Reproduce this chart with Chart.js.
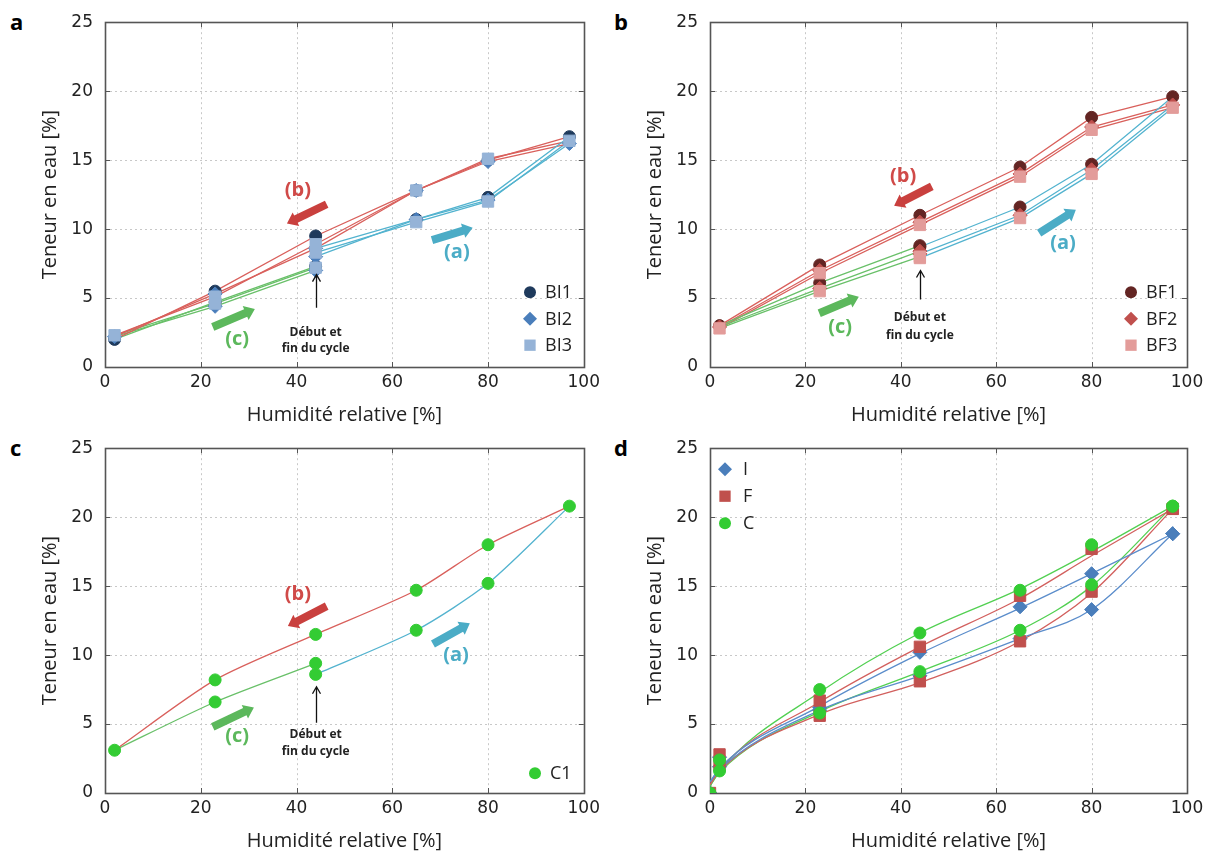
<!DOCTYPE html>
<html>
<head>
<meta charset="utf-8">
<script src="https://cdn.jsdelivr.net/npm/chart.js@4.4.0/dist/chart.umd.min.js"></script>
<style>
  body { margin: 0; background: #fff; width: 1215px; height: 852px; position: relative; overflow: hidden; }
  canvas { position: absolute; }
  .letter { position: absolute; font: bold 22px 'Open Sans', sans-serif; color: #000; line-height: 22px; }
</style>
</head>
<body>
<div class="letter" style="left:10px;top:10px">a</div>
<div class="letter" style="left:614px;top:10px">b</div>
<div class="letter" style="left:10px;top:436px">c</div>
<div class="letter" style="left:614px;top:436px">d</div>
<canvas id="chartA" width="605" height="426" style="left:0;top:0"></canvas>
<canvas id="chartB" width="610" height="426" style="left:605px;top:0"></canvas>
<canvas id="chartC" width="605" height="426" style="left:0;top:426px"></canvas>
<canvas id="chartD" width="610" height="426" style="left:605px;top:426px"></canvas>
<script>
// humidité relative [%] dans l'ordre du cycle : (a) 44->97, (b) 97->2, (c) 2->44
const cycleRH = [44, 65, 80, 97, 80, 65, 44, 23, 2, 23, 44];

// teneur en eau [%] le long du cycle
const BI1 = [8.6, 10.7, 12.3, 16.7, 15.0, 12.8, 9.5, 5.5, 2.0, 4.7, 7.3];
const BI2 = [8.0, 10.7, 12.1, 16.2, 14.9, 12.8, 8.6, 5.3, 2.2, 4.4, 7.0];
const BI3 = [8.3, 10.5, 12.0, 16.4, 15.1, 12.8, 8.9, 5.1, 2.3, 4.6, 7.2];

const BF1 = [8.7, 11.6, 14.7, 19.6, 18.1, 14.5, 11.0, 7.4, 3.0, 6.1, 8.8];
const BF2 = [8.2, 11.0, 14.3, 19.0, 17.4, 14.0, 10.5, 7.0, 2.9, 5.7, 8.4];
const BF3 = [7.9, 10.8, 14.0, 18.8, 17.2, 13.8, 10.3, 6.8, 2.8, 5.5, 8.0];

const C1 = [8.6, 11.8, 15.2, 20.8, 18.0, 14.7, 11.5, 8.2, 3.1, 6.6, 9.4];

// panneau d : moyennes par type
const rhD = [0, 2, 23, 44, 65, 80, 97];
const I_ads = [0.0, 1.9, 6.0, 8.5, 11.2, 13.3, 18.8];
const I_des = [null, 2.6, 6.2, 10.2, 13.5, 15.9, 18.8];
const F_ads = [0.0, 2.0, 5.6, 8.1, 11.0, 14.6, 20.6];
const F_des = [null, 2.8, 6.7, 10.6, 14.3, 17.7, 20.6];
const C_ads = [0.0, 1.6, 5.8, 8.8, 11.8, 15.1, 20.8];
const C_des = [null, 2.4, 7.5, 11.6, 14.7, 18.0, 20.8];
// courbes ajustées
const I_fitAds = [0.8, 1.7, 6.0, 8.5, 11.2, 13.3, 18.8];
const I_fitDes = [0.8, 1.8, 6.3, 10.1, 13.4, 15.9, 18.8];
const F_fitAds = [0.6, 1.6, 5.7, 8.0, 11.0, 14.5, 20.6];
const F_fitDes = [0.6, 1.7, 6.6, 10.6, 14.1, 17.2, 20.6];
const C_fitAds = [0.5, 1.5, 5.9, 8.8, 11.8, 15.0, 20.8];
const C_fitDes = [0.5, 1.6, 7.3, 11.6, 14.8, 17.5, 20.8];

const xTicks = [0, 20, 40, 60, 80, 100];
const yTicks = [0, 5, 10, 15, 20, 25];

const CYAN = '#53B3CF', RED = '#D9605C', GREEN = '#69C069';
const phases = [
  { from: 0, to: 3, color: CYAN },
  { from: 3, to: 8, color: RED },
  { from: 8, to: 10, color: GREEN }
];

function cycleDatasets(samples, tension) {
  const sets = [];
  samples.forEach((s, k) => {
    sets.push({
      label: s.name, legend: true,
      data: cycleRH.map((x, i) => ({ x: x, y: s.values[i] })),
      showLine: false, pointStyle: s.style, pointRadius: s.r,
      backgroundColor: s.color, borderColor: s.color, pointBorderWidth: 1,
      order: samples.length - k
    });
    phases.forEach(p => {
      const pts = [];
      for (let i = p.from; i <= p.to; i++) pts.push({ x: cycleRH[i], y: s.values[i] });
      pts.sort((a, b) => a.x - b.x);
      sets.push({
        data: pts, showLine: true, pointRadius: 0, borderColor: p.color,
        borderWidth: 1.3, tension: tension, order: 10
      });
    });
  });
  return sets;
}

function fitDatasets(series) {
  const sets = [];
  series.forEach((s, k) => {
    const pts = [];
    rhD.forEach((x, i) => {
      pts.push({ x: x, y: s.ads[i] });
      if (s.des[i] !== null) pts.push({ x: x, y: s.des[i] });
    });
    sets.push({
      label: s.name, legend: true, data: pts, showLine: false,
      pointStyle: s.style, pointRadius: s.r, backgroundColor: s.color,
      borderColor: s.color, pointBorderWidth: 1, order: series.length - k
    });
    [s.fitAds, s.fitDes].forEach(fit => {
      sets.push({
        data: rhD.map((x, i) => ({ x: x, y: fit[i] })), showLine: true,
        pointRadius: 0, borderColor: s.line, borderWidth: 1.3,
        cubicInterpolationMode: 'monotone', order: 10
      });
    });
  });
  return sets;
}

function drawShape(ctx, style, x, y, r, color) {
  ctx.fillStyle = color;
  ctx.beginPath();
  if (style === 'circle') ctx.arc(x, y, r, 0, Math.PI * 2);
  else if (style === 'rectRot') { ctx.moveTo(x - r, y); ctx.lineTo(x, y - r); ctx.lineTo(x + r, y); ctx.lineTo(x, y + r); ctx.closePath(); }
  else { const h = r * Math.SQRT1_2; ctx.rect(x - h, y - h, 2 * h, 2 * h); }
  ctx.fill();
}

const decor = {
  id: 'decor',
  beforeDatasetsDraw(chart) {
    const { ctx, chartArea: a, scales: { x, y } } = chart;
    ctx.save();
    ctx.strokeStyle = '#c8c8c8';
    ctx.lineWidth = 1;
    ctx.setLineDash([2, 3]);
    xTicks.slice(1, -1).forEach(v => {
      const px = Math.round(x.getPixelForValue(v)) + 0.5;
      ctx.beginPath(); ctx.moveTo(px, a.top); ctx.lineTo(px, a.bottom); ctx.stroke();
    });
    yTicks.slice(1, -1).forEach(v => {
      const py = Math.round(y.getPixelForValue(v)) + 0.5;
      ctx.beginPath(); ctx.moveTo(a.left, py); ctx.lineTo(a.right, py); ctx.stroke();
    });
    ctx.setLineDash([]);
    ctx.strokeStyle = '#555';
    ctx.lineWidth = 1;
    xTicks.slice(1, -1).forEach(v => {
      const px = Math.round(x.getPixelForValue(v)) + 0.5;
      ctx.beginPath(); ctx.moveTo(px, a.bottom); ctx.lineTo(px, a.bottom - 5);
      ctx.moveTo(px, a.top); ctx.lineTo(px, a.top + 5); ctx.stroke();
    });
    yTicks.slice(1, -1).forEach(v => {
      const py = Math.round(y.getPixelForValue(v)) + 0.5;
      ctx.beginPath(); ctx.moveTo(a.left, py); ctx.lineTo(a.left + 5, py);
      ctx.moveTo(a.right, py); ctx.lineTo(a.right - 5, py); ctx.stroke();
    });
    ctx.lineWidth = 1.6;
    ctx.strokeRect(Math.round(a.left) + 0.5, Math.round(a.top) + 0.5, Math.round(a.right - a.left), Math.round(a.bottom - a.top));
    ctx.restore();
  },
  afterDatasetsDraw(chart, args, opts) {
    const { ctx, chartArea: a, scales: { x, y } } = chart;
    ctx.save();
    (opts.arrows || []).forEach(ar => {
      const x1 = x.getPixelForValue(ar.from[0]), y1 = y.getPixelForValue(ar.from[1]);
      const x2 = x.getPixelForValue(ar.to[0]), y2 = y.getPixelForValue(ar.to[1]);
      const L = Math.hypot(x2 - x1, y2 - y1), w = 8, hw = 15, hl = 10;
      ctx.save();
      ctx.translate(x1, y1);
      ctx.rotate(Math.atan2(y2 - y1, x2 - x1));
      ctx.fillStyle = ar.color;
      ctx.beginPath();
      ctx.moveTo(0, -w / 2); ctx.lineTo(L - hl, -w / 2); ctx.lineTo(L - hl, -hw / 2);
      ctx.lineTo(L, 0); ctx.lineTo(L - hl, hw / 2); ctx.lineTo(L - hl, w / 2); ctx.lineTo(0, w / 2);
      ctx.closePath(); ctx.fill();
      ctx.restore();
    });
    if (opts.pointer) {
      const p = opts.pointer;
      const px = Math.round(x.getPixelForValue(p.x)) + 0.5;
      const yb = y.getPixelForValue(p.from), yt = y.getPixelForValue(p.to);
      ctx.strokeStyle = '#111'; ctx.lineWidth = 1.3;
      ctx.beginPath(); ctx.moveTo(px, yb); ctx.lineTo(px, yt);
      ctx.moveTo(px - 4, yt + 7); ctx.lineTo(px, yt); ctx.lineTo(px + 4, yt + 7); ctx.stroke();
    }
    ctx.textAlign = 'center';
    ctx.textBaseline = 'middle';
    (opts.texts || []).forEach(t => {
      ctx.fillStyle = t.color; ctx.font = t.font;
      ctx.fillText(t.text, x.getPixelForValue(t.x), y.getPixelForValue(t.y));
    });
    if (opts.legend) {
      const lg = opts.legend;
      ctx.textAlign = 'left';
      ctx.font = '18px "Open Sans"';
      chart.data.datasets.filter(d => d.legend).forEach((d, i) => {
        const cx = a.left + lg.x, cy = a.top + lg.y + i * lg.dy;
        drawShape(ctx, d.pointStyle, cx, cy, d.pointRadius, d.backgroundColor);
        ctx.fillStyle = '#222';
        ctx.fillText(d.label, cx + lg.gap, cy + 1);
      });
    }
    ctx.restore();
  }
};

function makeChart(id, datasets, decorOpts, padRight) {
  return new Chart(document.getElementById(id), {
    type: 'scatter',
    data: { datasets: datasets },
    options: {
      responsive: false,
      animation: false,
      events: [],
      layout: { padding: { top: 22, right: padRight, left: 0, bottom: 0 } },
      plugins: { legend: { display: false }, tooltip: { enabled: false }, decor: decorOpts },
      scales: {
        x: {
          type: 'linear', min: 0, max: 100,
          afterBuildTicks: s => { s.ticks = xTicks.map(v => ({ value: v })); },
          afterFit: s => { s.height = 59; },
          grid: { display: false, drawTicks: false },
          border: { display: false },
          ticks: { padding: 5, color: '#222', maxRotation: 0, font: { family: 'DejaVu Sans', size: 17 } },
          title: { display: true, text: 'Humidité relative [%]', color: '#222',
                   font: { family: 'Open Sans', size: 20, lineHeight: 1 }, padding: { top: 0, bottom: 1 } }
        },
        y: {
          type: 'linear', min: 0, max: 25,
          afterBuildTicks: s => { s.ticks = yTicks.map(v => ({ value: v })); },
          afterFit: s => { s.width = 105; },
          grid: { display: false, drawTicks: false },
          border: { display: false },
          ticks: { padding: 12, color: '#222', font: { family: 'DejaVu Sans', size: 17 } },
          title: { display: true, text: 'Teneur en eau [%]', color: '#222',
                   font: { family: 'Open Sans', size: 20, lineHeight: 1 }, padding: { top: 40, bottom: 0 } }
        }
      }
    },
    plugins: [decor]
  });
}

const lblFont = 'bold 20px "Open Sans"';
const noteFont = 'bold 12px "Open Sans"';
function notes(dy) {
  return [
    { text: 'Début et', x: 44, y: dy[0], color: '#222', font: noteFont },
    { text: 'fin du cycle', x: 44, y: dy[1], color: '#222', font: noteFont }
  ];
}

makeChart('chartA', cycleDatasets([
  { name: 'BI1', values: BI1, style: 'circle', r: 6, color: '#1F3A5C' },
  { name: 'BI2', values: BI2, style: 'rectRot', r: 7, color: '#4A7EBB' },
  { name: 'BI3', values: BI3, style: 'rect', r: 8, color: '#95B3D7' }
], 0), {
  arrows: [
    { from: [46.3, 11.8], to: [38.0, 10.4], color: '#C9403E' },
    { from: [68.3, 9.2], to: [76.8, 10.1], color: '#4BACC6' },
    { from: [22.5, 2.9], to: [31.3, 4.2], color: '#5CB85C' }
  ],
  pointer: { x: 44, from: 4.3, to: 6.7 },
  texts: [
    { text: '(b)', x: 40.3, y: 12.8, color: '#D04A48', font: lblFont },
    { text: '(a)', x: 73.5, y: 8.3, color: '#4BACC6', font: lblFont },
    { text: '(c)', x: 27.6, y: 2.0, color: '#5CB85C', font: lblFont }
  ].concat(notes([2.5, 1.3])),
  legend: { x: 425, y: 270, dy: 26.5, gap: 15 }
}, 21);

makeChart('chartB', cycleDatasets([
  { name: 'BF1', values: BF1, style: 'circle', r: 6, color: '#632523' },
  { name: 'BF2', values: BF2, style: 'rectRot', r: 7, color: '#C0504D' },
  { name: 'BF3', values: BF3, style: 'rect', r: 8, color: '#E39C9A' }
], 0), {
  arrows: [
    { from: [46.5, 13.1], to: [38.6, 11.7], color: '#C9403E' },
    { from: [69.0, 9.7], to: [76.7, 11.4], color: '#4BACC6' },
    { from: [22.9, 3.9], to: [31.2, 5.1], color: '#5CB85C' }
  ],
  pointer: { x: 44, from: 4.9, to: 7.0 },
  texts: [
    { text: '(b)', x: 40.5, y: 13.8, color: '#D04A48', font: lblFont },
    { text: '(a)', x: 74.0, y: 9.0, color: '#4BACC6', font: lblFont },
    { text: '(c)', x: 27.3, y: 2.9, color: '#5CB85C', font: lblFont }
  ].concat(notes([3.55, 2.3])),
  legend: { x: 421, y: 270, dy: 26.5, gap: 15 }
}, 28);

makeChart('chartC', cycleDatasets([
  { name: 'C1', values: C1, style: 'circle', r: 6, color: '#33CC33' }
], 0.25), {
  arrows: [
    { from: [46.3, 13.55], to: [38.2, 12.1], color: '#C9403E' },
    { from: [68.5, 10.8], to: [76.2, 12.3], color: '#4BACC6' },
    { from: [22.5, 4.8], to: [31.1, 6.2], color: '#5CB85C' }
  ],
  pointer: { x: 44, from: 5.1, to: 7.7 },
  texts: [
    { text: '(b)', x: 40.3, y: 14.4, color: '#D04A48', font: lblFont },
    { text: '(a)', x: 73.3, y: 10.0, color: '#4BACC6', font: lblFont },
    { text: '(c)', x: 27.6, y: 4.1, color: '#5CB85C', font: lblFont }
  ].concat(notes([4.2, 3.0])),
  legend: { x: 430, y: 325, dy: 26.5, gap: 15 }
}, 21);

makeChart('chartD', fitDatasets([
  { name: 'I', style: 'rectRot', r: 7, color: '#4A7EBB', line: '#5B8DCB',
    ads: I_ads, des: I_des, fitAds: I_fitAds, fitDes: I_fitDes },
  { name: 'F', style: 'rect', r: 8, color: '#C0504D', line: '#D2605E',
    ads: F_ads, des: F_des, fitAds: F_fitAds, fitDes: F_fitDes },
  { name: 'C', style: 'circle', r: 6, color: '#33CC33', line: '#52D052',
    ads: C_ads, des: C_des, fitAds: C_fitAds, fitDes: C_fitDes }
]), {
  legend: { x: 15, y: 21, dy: 27, gap: 18 }
}, 28);
</script>
</body>
</html>
